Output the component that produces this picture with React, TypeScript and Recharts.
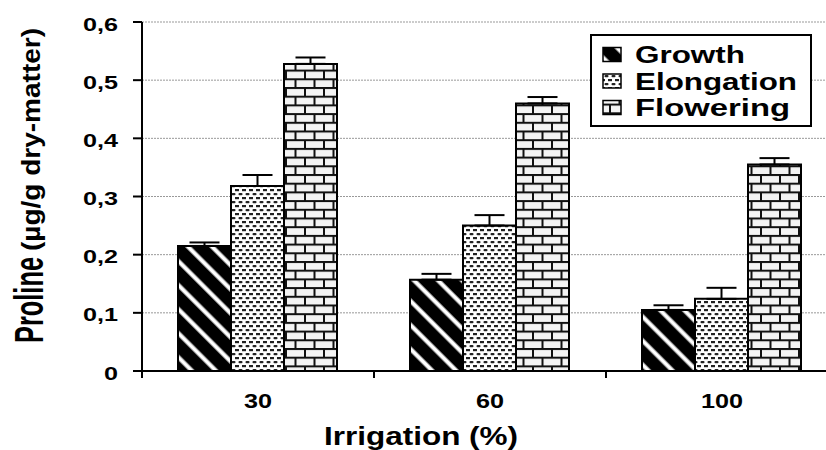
import React from 'react';
import { BarChart, Bar, XAxis, YAxis, CartesianGrid, ErrorBar, Legend } from 'recharts';

// Irrigation levels (%)
const categories = ['30', '60', '100'];

// Proline content (µg/g dry-matter) per growth stage
const growth = [0.215, 0.157, 0.105];
const growthErr = [0.006, 0.01, 0.008];
const elongation = [0.318, 0.25, 0.124];
const elongationErr = [0.019, 0.018, 0.019];
const flowering = [0.528, 0.46, 0.355];
const floweringErr = [0.011, 0.011, 0.011];

const yTicks = [0, 0.1, 0.2, 0.3, 0.4, 0.5, 0.6];

const seriesNames = ['Growth', 'Elongation', 'Flowering'];

const data = categories.map((c, i) => ({
  name: c,
  growth: growth[i],
  growthErr: [0, growthErr[i]],
  elongation: elongation[i],
  elongationErr: [0, elongationErr[i]],
  flowering: flowering[i],
  floweringErr: [0, floweringErr[i]],
}));

const FONT = '"Liberation Sans", Arial, sans-serif';
const CHART_W = 860;
const CHART_H = 450;
const PLOT_LEFT = 142;
const PLOT_RIGHT = 838;
const HALF_BAND = (PLOT_RIGHT - PLOT_LEFT) / categories.length / 2;

/**
 * Y tick labels with decimal comma
 */
function YTick(props: any) {
  const { y, payload } = props;
  const label = String(payload.value).replace('.', ',');
  return (
    <text
      transform={`translate(118, ${y + 8.5}) scale(1.4, 1)`}
      textAnchor="end"
      fontFamily={FONT}
      fontWeight="bold"
      fontSize={18}
      fill="#000"
    >
      {label}
    </text>
  );
}

/**
 * X tick: label at band centre, tick mark at band boundary
 */
function XTick(props: any) {
  const { x, payload } = props;
  const left = x - HALF_BAND;
  return (
    <g>
      <line x1={left} x2={left} y1={371} y2={378} stroke="#000" strokeWidth={2} />
      <text
        transform={`translate(${x}, 408) scale(1.2, 1)`}
        textAnchor="middle"
        fontFamily={FONT}
        fontWeight="bold"
        fontSize={21}
        fill="#000"
      >
        {payload.value}
      </text>
    </g>
  );
}

function YLabel() {
  return (
    <g fill="#000" fontFamily={FONT} fontWeight="bold">
      <text
        transform="translate(43, 343) rotate(-90) scale(1, 1.35)"
        fontFamily={'"Liberation Sans Narrow", "Arial Narrow", ' + FONT}
        fontSize={30}
        textLength={86}
        lengthAdjust="spacingAndGlyphs"
      >
        Proline
      </text>
      <text
        transform="translate(40, 251) rotate(-90) scale(1, 1.3)"
        fontSize={20}
        textLength={223}
        lengthAdjust="spacingAndGlyphs"
      >
        (µg/g dry-matter)
      </text>
    </g>
  );
}

const fills = ['url(#pGrowth)', 'url(#pElong)', 'url(#pFlower)'];
const legendText = [
  { w: 110, base: 29 },
  { w: 162, base: 55.5 },
  { w: 155, base: 82 },
];

function LegendBox() {
  return (
    <svg width={222} height={93} style={{ display: 'block' }}>
      <rect x={1} y={1} width={220} height={91} fill="#fff" stroke="#000" strokeWidth={2} />
      {seriesNames.map((name, i) => (
        <g key={name}>
          <rect
            x={13}
            y={legendText[i].base - 15.5}
            width={18}
            height={14}
            fill={fills[i]}
            stroke="#000"
            strokeWidth={1.5}
          />
          <text
            x={45}
            y={legendText[i].base}
            fontFamily={FONT}
            fontWeight="bold"
            fontSize={24}
            textLength={legendText[i].w}
            lengthAdjust="spacingAndGlyphs"
            fill="#000"
          >
            {name}
          </text>
        </g>
      ))}
    </svg>
  );
}

export default function App() {
  return (
    <div
      style={{
        position: 'absolute',
        left: 0,
        top: 0,
        width: 826,
        height: 450,
        overflow: 'hidden',
        background: '#fff',
      }}
    >
      <BarChart
        width={CHART_W}
        height={CHART_H}
        data={data}
        margin={{ top: 22, right: CHART_W - PLOT_RIGHT, left: PLOT_LEFT - 60, bottom: 0 }}
        barCategoryGap={36}
        barGap={0}
      >
        <defs>
          <pattern
            id="pGrowth"
            patternUnits="userSpaceOnUse"
            width={17}
            height={17}
            patternTransform="rotate(45)"
          >
            <rect width={17} height={17} fill="#000" />
            <rect x={0} y={6} width={17} height={3} fill="#fff" />
            <rect x={0} y={5} width={17} height={1} fill="#999" />
            <rect x={0} y={9} width={17} height={1} fill="#999" />
          </pattern>
          <pattern id="pElong" patternUnits="userSpaceOnUse" width={7} height={8}>
            <rect width={7} height={8} fill="#fff" />
            <rect x={0.5} y={1} width={4} height={2.2} rx={1} fill="#222" />
            <rect x={4} y={5} width={3} height={2.2} fill="#222" />
            <rect x={0} y={5} width={1} height={2.2} fill="#222" />
          </pattern>
          <pattern id="pFlower" patternUnits="userSpaceOnUse" width={19} height={17.4}>
            <rect width={19} height={17.4} fill="#f4f4f4" />
            <rect x={0} y={0} width={19} height={2} fill="#111" />
            <rect x={0} y={8.7} width={19} height={2} fill="#111" />
            <rect x={0} y={0} width={2} height={8.7} fill="#111" />
            <rect x={9.5} y={8.7} width={2} height={8.7} fill="#111" />
          </pattern>
        </defs>
        <CartesianGrid vertical={false} stroke="#999" strokeDasharray="2 1" />
        <XAxis
          dataKey="name"
          height={79}
          axisLine={{ stroke: '#000', strokeWidth: 2 }}
          tickLine={false}
          tick={<XTick />}
          interval={0}
        />
        <YAxis
          width={60}
          domain={[0, 0.6]}
          ticks={yTicks}
          axisLine={{ stroke: '#000', strokeWidth: 2 }}
          tickLine={{ stroke: '#000', strokeWidth: 2 }}
          tickSize={9}
          tick={<YTick />}
          label={{ content: () => <YLabel /> }}
        />
        <Legend
          layout="vertical"
          align="center"
          verticalAlign="middle"
          wrapperStyle={{ position: 'absolute', left: 590, top: 34, width: 222, height: 93 }}
          content={() => <LegendBox />}
        />
        <Bar dataKey="growth" name="Growth" fill="url(#pGrowth)" stroke="#000" strokeWidth={2} isAnimationActive={false}>
          <ErrorBar dataKey="growthErr" direction="y" width={15} stroke="#000" strokeWidth={2} />
        </Bar>
        <Bar dataKey="elongation" name="Elongation" fill="url(#pElong)" stroke="#000" strokeWidth={2} isAnimationActive={false}>
          <ErrorBar dataKey="elongationErr" direction="y" width={15} stroke="#000" strokeWidth={2} />
        </Bar>
        <Bar dataKey="flowering" name="Flowering" fill="url(#pFlower)" stroke="#000" strokeWidth={2} isAnimationActive={false}>
          <ErrorBar dataKey="floweringErr" direction="y" width={15} stroke="#000" strokeWidth={2} />
        </Bar>
      </BarChart>
      <svg
        width={826}
        height={450}
        style={{ position: 'absolute', left: 0, top: 0, pointerEvents: 'none' }}
      >
        <text
          transform="translate(421, 445) scale(1.26, 1)"
          textAnchor="middle"
          fontFamily={FONT}
          fontWeight="bold"
          fontSize={25}
          fill="#000"
        >
          Irrigation (%)
        </text>
      </svg>
    </div>
  );
}
